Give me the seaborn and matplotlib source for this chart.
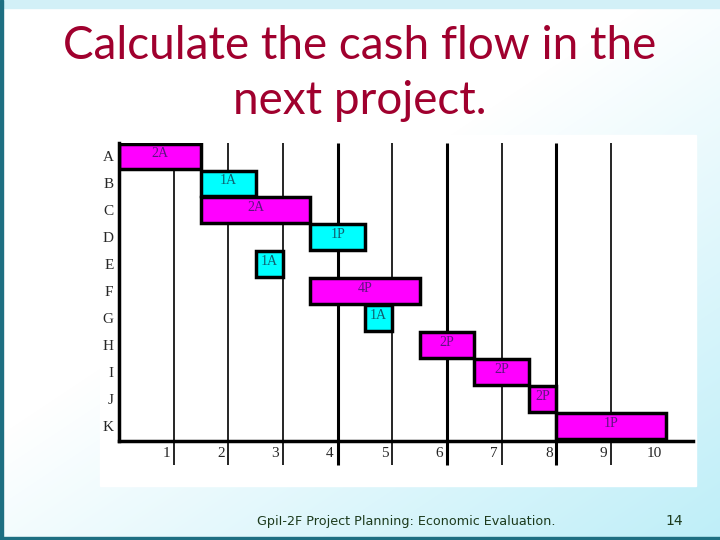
import numpy as np
import pandas as pd
import matplotlib
matplotlib.use("Agg")
import matplotlib.pyplot as plt
import seaborn as sns
from matplotlib.colors import LinearSegmentedColormap
from matplotlib.patches import Rectangle

# Gantt data
tasks = ["A", "B", "C", "D", "E", "F", "G", "H", "I", "J", "K"]
starts = [0, 1.5, 1.5, 3.5, 2.5, 3.5, 4.5, 5.5, 6.5, 7.5, 8]
durations = [1.5, 1, 2, 1, 0.5, 2, 0.5, 1, 1, 0.5, 2]
flows = ["2A", "1A", "2A", "1P", "1A", "4P", "1A", "2P", "2P", "2P", "1P"]
critical = [True, False, True, False, False, True, False, True, True, True, True]
periods = list(range(1, 11))

df = pd.DataFrame({"task": tasks, "start": starts, "dur": durations,
                   "flow": flows, "critical": critical})
df["pos"] = np.arange(len(df))

sns.set_style("white")

fig = plt.figure(figsize=(7.2, 5.4), dpi=100)

# slide background (soft cyan gradient)
bg = fig.add_axes([0, 0, 1, 1], zorder=-10)
yy, xx = np.mgrid[0:540, 0:720]
t = np.clip(0.8 * xx / 720 + 0.9 * yy / 540 - 0.72, 0, 1)
cmap = LinearSegmentedColormap.from_list("slide", ["#ffffff", "#bdeef8"])
bg.imshow(t, cmap=cmap, extent=[0, 720, 540, 0], aspect="auto", vmin=0, vmax=1)
bg.add_patch(Rectangle((0, 0), 720, 8, color="#d2f0f7"))
bg.add_patch(Rectangle((100, 135), 596, 351, color="white"))
bg.add_patch(Rectangle((0, 0), 3, 540, color="#1e6f82"))
bg.add_patch(Rectangle((0, 537), 720, 3, color="#1e6f82"))
bg.set_xlim(0, 720)
bg.set_ylim(540, 0)
bg.axis("off")

# title and footer
fig.text(0.5, 0.915, "Calculate the cash flow in the", ha="center", va="center",
         fontsize=33, color="#a0002e", family="Lato")
fig.text(0.5, 0.813, "next project.", ha="center", va="center",
         fontsize=33, color="#a0002e", family="Lato")
fig.text(257 / 720, 1 - 521 / 540, "GpiI-2F Project Planning: Economic Evaluation.",
         ha="left", va="center", fontsize=9.2, color="#1c3a1c", family="DejaVu Sans")
fig.text(674 / 720, 1 - 521 / 540, "14", ha="center", va="center",
         fontsize=10, color="#1c3a1c", family="DejaVu Sans")

ax = fig.add_axes([119 / 720, 1 - 441 / 540, 574 / 720, 298 / 540])
ax.set_facecolor("white")

# vertical period lines (extend below the axis)
line_w = {4: 2.2, 6: 2.2, 8: 2.2}
ax.vlines(periods[:-1], -0.5, 11.45, color="black",
          lw=[line_w.get(p, 1.2) for p in periods[:-1]], clip_on=False, zorder=1)

colors = ["#ff00ff" if c else "#00ffff" for c in df["critical"]]
ax.barh(df["pos"], df["dur"], left=df["start"], height=0.96, color=colors,
        edgecolor="black", linewidth=2.5, zorder=3)

for _, r in df.iterrows():
    tc = "#5e1480" if r["critical"] else "#105f70"
    ax.text(r["start"] + r["dur"] / 2, r["pos"] - 0.1, r["flow"], ha="center",
            va="center", fontsize=10, color=tc, family="Liberation Serif", zorder=4)

for p in periods:
    ax.text(p - 0.07, 11.0, str(p), ha="right", va="center", fontsize=11,
            family="Liberation Serif", clip_on=False)

ax.set_xlim(0, 10.5)
ax.set_ylim(10.55, -0.5)
ax.set_xticks([])
ax.set_yticks(df["pos"])
ax.set_yticklabels(tasks, family="Liberation Serif", fontsize=11)
ax.tick_params(axis="y", length=0, pad=4)
sns.despine(ax=ax, top=True, right=True)
for s in ["left", "bottom"]:
    ax.spines[s].set_linewidth(2.5)
    ax.spines[s].set_color("black")
ax.spines["left"].set_zorder(5)

fig.savefig("out.png", dpi=100)
